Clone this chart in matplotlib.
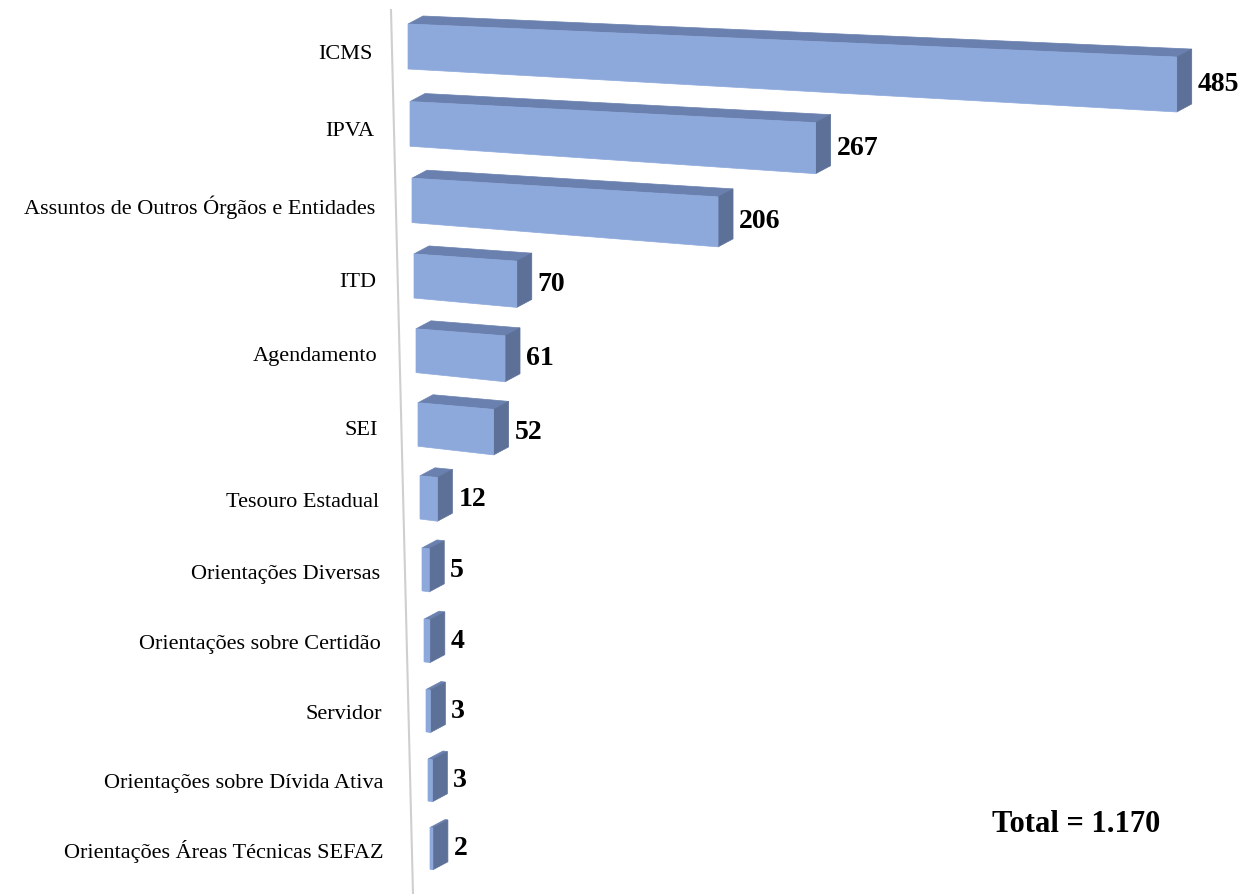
import numpy as np
import matplotlib.pyplot as plt
from matplotlib.patches import Polygon

categories = ['ICMS', 'IPVA', 'Assuntos de Outros Órgãos e Entidades', 'ITD',
              'Agendamento', 'SEI', 'Tesouro Estadual', 'Orientações Diversas',
              'Orientações sobre Certidão', 'Servidor',
              'Orientações sobre Dívida Ativa', 'Orientações Áreas Técnicas SEFAZ']
values = [485, 267, 206, 70, 61, 52, 12, 5, 4, 3, 3, 2]
total_label = 'Total = 1.170'

FRONT = '#8DA9DC'
TOP = '#6A81AF'
SIDE = '#5D7098'

W, H = 1239, 894
plt.rcParams['font.family'] = ['Liberation Serif', 'DejaVu Serif']
fig = plt.figure(figsize=(W / 100, H / 100), dpi=100)
ax = fig.add_axes([0, 0, 1, 1])
ax.set_xlim(0, W)
ax.set_ylim(H, 0)
ax.axis('off')

# fake 3d perspective: each row gets its own origin, scale and tilt
DX, DY = 15, -8


def row_geom(i):
    x0 = 408 + 2 * i
    y0 = 24 + 78 * i - 0.45 * i ** 2
    s = 1.45 + 0.135 * np.exp(-i / 1.5)
    h = 45 - 0.3 * i
    st = 0.043 + 0.009 * i
    return x0, y0, s, h, st, st * 1.3


# axis line
ax.plot([391, 413], [10, 894], color='#CFCFCF', lw=1.5, zorder=1)

n = len(categories)
for i, (cat, v) in enumerate(zip(categories, values)):
    x0, y0, s, h, st, sb = row_geom(i)
    w = v * s
    tl = (x0, y0)
    tr = (x0 + w, y0 + st * w)
    br = (x0 + w, y0 + h + sb * w)
    bl = (x0, y0 + h)
    top = [tl, tr, (tr[0] + DX, tr[1] + DY), (tl[0] + DX, tl[1] + DY)]
    side = [tr, br, (br[0] + DX, br[1] + DY), (tr[0] + DX, tr[1] + DY)]
    for pts, col in [(top, TOP), (side, SIDE), ([tl, tr, br, bl], FRONT)]:
        ax.add_patch(Polygon(pts, closed=True, facecolor=col, edgecolor=col,
                             lw=0.5, zorder=2))
    ax.text(tr[0] + DX + 6, (tr[1] + br[1]) / 2, str(v), ha='left', va='center',
            fontsize=20, fontweight='bold')
    ax.text(373 + i, y0 + h / 2 + 3 + 5 * (1 - i / (n - 1)), cat,
            ha='right', va='center', fontsize=16)

ax.text(1076, 824, total_label, ha='center', va='center', fontsize=22,
        fontweight='bold')

fig.savefig('out.png', dpi=100)
